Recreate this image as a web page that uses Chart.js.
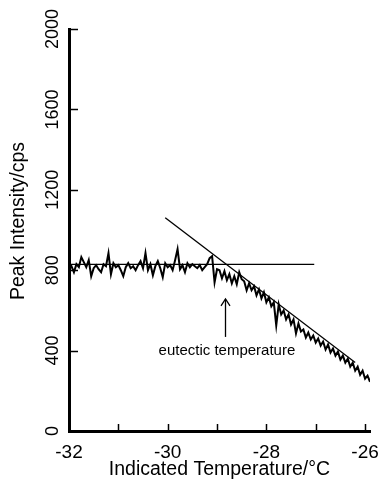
<!DOCTYPE html>
<html><head><meta charset="utf-8">
<script src="https://cdn.jsdelivr.net/npm/chart.js@4.4.1/dist/chart.umd.min.js"></script>
<style>html,body{margin:0;padding:0;background:#fff}canvas{display:block}</style>
</head><body><canvas id="c" width="379" height="484"></canvas>
<script>
// ---- data ----
const temps = [
-32.00,-31.95,-31.90,-31.85,-31.80,-31.75,-31.70,-31.65,-31.60,-31.55,
-31.50,-31.45,-31.40,-31.35,-31.30,-31.25,-31.20,-31.15,-31.10,-31.05,
-31.00,-30.95,-30.90,-30.85,-30.80,-30.75,-30.70,-30.65,-30.60,-30.55,
-30.50,-30.45,-30.40,-30.35,-30.30,-30.25,-30.20,-30.15,-30.10,-30.05,
-30.00,-29.95,-29.90,-29.85,-29.80,-29.75,-29.70,-29.65,-29.60,-29.55,
-29.50,-29.45,-29.40,-29.35,-29.30,-29.25,-29.20,-29.15,-29.10,-29.05,
-29.00,-28.95,-28.90,-28.85,-28.80,-28.75,-28.70,-28.65,-28.60,-28.55,
-28.50,-28.45,-28.40,-28.35,-28.30,-28.25,-28.20,-28.15,-28.10,-28.05,
-28.00,-27.95,-27.90,-27.85,-27.80,-27.75,-27.70,-27.65,-27.60,-27.55,
-27.50,-27.45,-27.40,-27.35,-27.30,-27.25,-27.20,-27.15,-27.10,-27.05,
-27.00,-26.95,-26.90,-26.85,-26.80,-26.75,-26.70,-26.65,-26.60,-26.55,
-26.50,-26.45,-26.40,-26.35,-26.30,-26.25,-26.20,-26.15,-26.10,-26.05,
-26.00,-25.95,-25.90
];
const intensity = [
805,820,790,830,815,865,840,815,850,770,
810,825,805,790,830,820,885,780,835,815,
825,800,770,815,835,810,820,800,825,845,
810,885,800,830,775,820,845,810,765,835,
815,825,800,850,905,805,825,790,835,815,
830,820,810,825,800,815,830,860,870,740,
805,800,760,795,750,780,735,770,730,790,
755,745,700,735,700,720,675,705,660,690,
640,665,620,640,525,630,580,600,555,580,
530,555,485,535,495,505,465,490,455,475,
440,460,425,445,405,430,390,410,375,395,
355,375,340,360,320,340,300,320,280,300,
260,275,245
];
const plateauX = [-32, -27.03];
const plateauY = [829, 829];
const slopeX = [-30.05, -26.2];
const slopeY = [1061, 341];
const arrowX = -28.84, arrowFrom = 468, arrowTo = 657;
const noteText = 'eutectic temperature', noteX = -28.8, noteY = 398;
const xTickValues = [-32, -31, -30, -29, -28, -27, -26];
const xTickLabels = ['-32', '', '-30', '', '-28', '', '-26'];
const yTickValues = [0, 400, 800, 1200, 1600, 2000];
const yTickLabels = ['0', '400', '800', '1200', '1600', '2000'];
const xTitle = 'Indicated Temperature/°C';
const yTitle = 'Peak Intensity/cps';

const FONT = '"Liberation Sans", Arial, Helvetica, sans-serif';
const toPts = (xs, ys) => xs.map((x, i) => ({x, y: ys[i]}));

const decor = {
  id: 'decor',
  afterDraw(chart) {
    const {ctx, scales: {x, y}, chartArea: a} = chart;
    ctx.save();
    ctx.strokeStyle = '#000';
    ctx.fillStyle = '#000';
    ctx.lineWidth = 1.5;
    yTickValues.forEach(v => {
      const py = Math.round(y.getPixelForValue(v)) + 0.5;
      ctx.beginPath(); ctx.moveTo(a.left, py); ctx.lineTo(a.left + 9, py); ctx.stroke();
    });
    xTickValues.forEach(v => {
      const px = Math.round(x.getPixelForValue(v)) + 0.5;
      ctx.beginPath(); ctx.moveTo(px, a.bottom); ctx.lineTo(px, a.bottom - 7); ctx.stroke();
    });
    ctx.font = '18px ' + FONT;
    ctx.textAlign = 'center';
    ctx.textBaseline = 'middle';
    yTickValues.forEach((v, i) => {
      const py = y.getPixelForValue(v);
      ctx.save();
      ctx.translate(52, py);
      ctx.rotate(-Math.PI / 2);
      ctx.fillText(yTickLabels[i], 0, 1);
      ctx.restore();
    });
    ctx.save();
    ctx.font = '19.5px ' + FONT;
    ctx.translate(19, 221);
    ctx.rotate(-Math.PI / 2);
    ctx.fillText(yTitle, 0, 0);
    ctx.restore();
    const ax = Math.round(x.getPixelForValue(arrowX)) + 0.5;
    const ay0 = y.getPixelForValue(arrowFrom), ay1 = y.getPixelForValue(arrowTo);
    ctx.lineWidth = 1.3;
    ctx.beginPath(); ctx.moveTo(ax, ay0); ctx.lineTo(ax, ay1); ctx.stroke();
    ctx.beginPath(); ctx.moveTo(ax - 4.5, ay1 + 7); ctx.lineTo(ax, ay1); ctx.lineTo(ax + 4.5, ay1 + 7); ctx.stroke();
    ctx.font = '15px ' + FONT;
    ctx.fillText(noteText, x.getPixelForValue(noteX), y.getPixelForValue(noteY));
    ctx.restore();
  }
};

new Chart(document.getElementById('c'), {
  type: 'scatter',
  data: {
    datasets: [
      {data: toPts(temps, intensity), showLine: true, borderColor: '#000', borderWidth: 2, pointRadius: 0, tension: 0},
      {data: toPts(plateauX, plateauY), showLine: true, borderColor: '#000', borderWidth: 1.3, pointRadius: 0},
      {data: toPts(slopeX, slopeY), showLine: true, borderColor: '#000', borderWidth: 1.3, pointRadius: 0}
    ]
  },
  options: {
    responsive: false, animation: false, devicePixelRatio: 1,
    layout: {padding: {left: 0, right: 9, top: 29, bottom: 0}},
    plugins: {legend: {display: false}, tooltip: {enabled: false}},
    scales: {
      x: {
        type: 'linear', min: -32, max: -25.9,
        afterFit: s => { s.height = 53; s.paddingLeft = 0; s.paddingRight = 0; },
        afterBuildTicks: s => { s.ticks = xTickValues.map(v => ({value: v})); },
        ticks: {
          autoSkip: false, maxRotation: 0, minRotation: 0, padding: 2, color: '#000',
          font: {size: 19, family: FONT},
          callback: (v) => { const i = xTickValues.indexOf(v); return i >= 0 ? xTickLabels[i] : ''; }
        },
        grid: {display: false},
        border: {display: true, color: '#000', width: 3},
        title: {display: true, text: xTitle, color: '#000', font: {size: 19.5, family: FONT}, padding: {top: 0, bottom: 3}}
      },
      y: {
        type: 'linear', min: 0, max: 2000,
        afterFit: s => { s.width = 69; s.paddingTop = 0; s.paddingBottom = 0; },
        afterBuildTicks: s => { s.ticks = yTickValues.map(v => ({value: v})); },
        ticks: {display: false},
        grid: {display: false},
        border: {display: true, color: '#000', width: 3},
        title: {display: false}
      }
    }
  },
  plugins: [decor]
});
</script>
</body></html>
